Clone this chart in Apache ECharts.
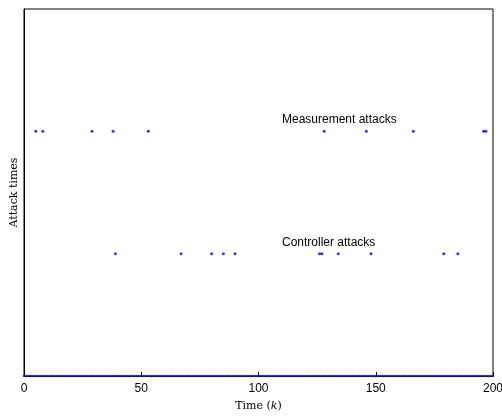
<!DOCTYPE html>
<html>
<head>
    <meta charset="utf-8">
    <title>Attack times</title>
    <script src="https://cdn.jsdelivr.net/npm/echarts@6/dist/echarts.min.js"></script>
    <style>
        html, body { margin: 0; padding: 0; background: #fff; }
        #main { width: 502px; height: 418px; }
    </style>
</head>
<body>
<div id="main"></div>
<script>
    // time steps k and the attack instants
    var kMin = 0, kMax = 200;
    var measurementTimes = [5, 8, 29, 38, 53, 128, 146, 166, 196, 197];
    var controllerTimes = [39, 67, 80, 85, 90, 126, 127, 134, 148, 179, 185];
    var levels = {normal: 0, controller: 1, measurement: 2};
    var xTicks = [0, 50, 100, 150, 200];

    var timeSteps = [];
    for (var k = kMin; k <= kMax; k++) timeSteps.push(k);

    // baseline row: one point per time step at level 0
    var normalPts = timeSteps.map(function (k) { return [k, levels.normal]; });
    var measPts = measurementTimes.map(function (k) { return [k, levels.measurement]; });
    var ctrlPts = controllerTimes.map(function (k) { return [k, levels.controller]; });

    var chart = echarts.init(document.getElementById('main'));
    var dot = {type: 'scatter', symbolSize: 3, itemStyle: {color: '#0000ff'}, silent: true, animation: false};

    chart.setOption({
        animation: false,
        grid: {left: 24, right: 9, top: 9, bottom: 42, show: true, borderColor: '#000', borderWidth: 1,
            outerBoundsMode: 'none', containLabel: false},
        xAxis: {
            type: 'value', min: kMin, max: kMax, interval: 50,
            name: 'Time ({i|k})', nameLocation: 'middle', nameGap: 25,
            nameTextStyle: {fontFamily: 'DejaVu Serif', fontSize: 11, color: '#000',
                rich: {i: {fontFamily: 'DejaVu Serif', fontStyle: 'italic', fontSize: 11, color: '#000'}}},
            axisLine: {lineStyle: {color: '#000'}},
            axisTick: {inside: true, length: 4, lineStyle: {color: '#000'}},
            axisLabel: {fontFamily: 'Liberation Sans', fontSize: 12, color: '#000', margin: 7,
                formatter: function (v) { return xTicks.indexOf(v) >= 0 ? String(v) : ''; }},
            splitLine: {show: false}
        },
        yAxis: {
            type: 'value', min: 0, max: 3,
            name: 'Attack times', nameLocation: 'middle', nameGap: 4,
            nameTextStyle: {fontFamily: 'DejaVu Serif', fontSize: 11, color: '#000'},
            axisLine: {show: true, lineStyle: {color: '#000'}},
            axisTick: {show: false},
            axisLabel: {show: false},
            splitLine: {show: false}
        },
        series: [
            Object.assign({}, dot, {name: 'normal', data: normalPts, symbolSize: 2.5,
                itemStyle: {color: '#1a1a9a'}}),
            Object.assign({}, dot, {name: 'Measurement attacks', data: measPts}),
            Object.assign({}, dot, {name: 'Controller attacks', data: ctrlPts})
        ],
        graphic: [
            {type: 'text', left: 282, top: 114,
                style: {text: 'Measurement attacks', font: '12px "Liberation Sans"', fill: '#000'}},
            {type: 'text', left: 282, top: 237,
                style: {text: 'Controller attacks', font: '12px "Liberation Sans"', fill: '#000'}}
        ]
    });
</script>
</body>
</html>
